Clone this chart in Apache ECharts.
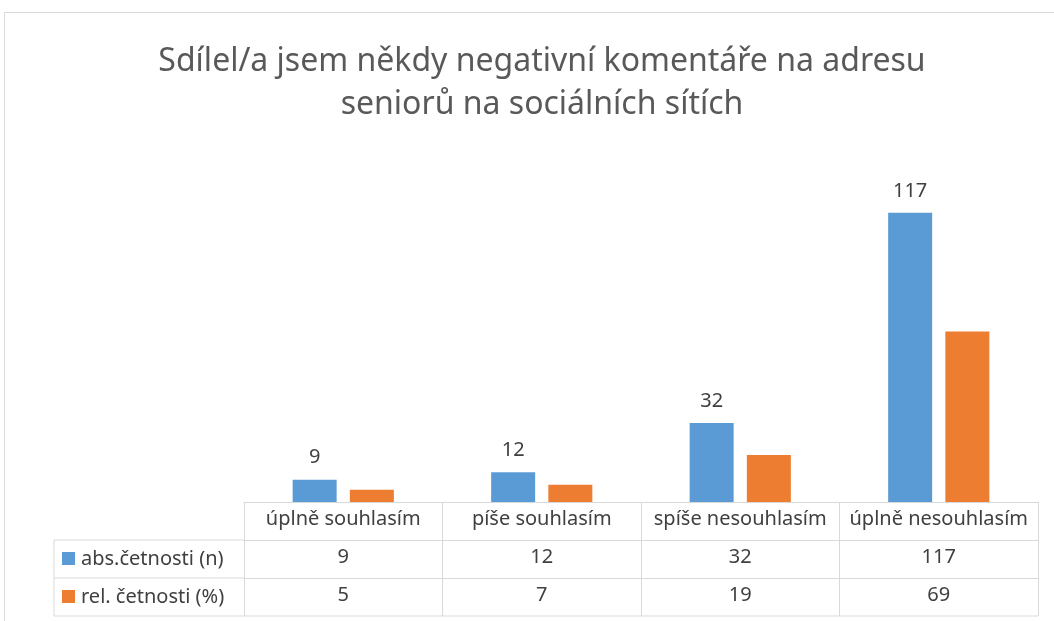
<!DOCTYPE html>
<html>
<head>
<meta charset="utf-8">
<script src="https://cdn.jsdelivr.net/npm/echarts@6/dist/echarts.min.js"></script>
<style>
  html, body { margin: 0; padding: 0; background: #fff; }
  #main { width: 1054px; height: 621px; }
</style>
</head>
<body>
<div id="main"></div>
<script>
var titleText = 'Sdílel/a jsem někdy negativní komentáře na adresu\nseniorů na sociálních sítích';
var categories = ['úplně souhlasím', 'píše souhlasím', 'spíše nesouhlasím', 'úplně nesouhlasím'];
var seriesNames = ['abs.četnosti (n)', 'rel. četnosti (%)'];
var absValues = [9, 12, 32, 117];
var relValues = [5, 7, 19, 69];
var colors = ['#5B9BD5', '#ED7D31'];

var font = '"Noto Sans", sans-serif';
var lineColor = '#d9d9d9';
var textColor = '#404040';

// table geometry (px)
var gridLeft = 244, gridRight = 1038, base = 502, rowH = 38, tableLeft = 54;

var chart = echarts.init(document.getElementById('main'));

function tableAxis(data, offset) {
  return {
    type: 'category',
    data: data,
    position: 'bottom',
    offset: offset,
    axisLine: { show: true, lineStyle: { color: lineColor, width: 1 } },
    axisTick: { show: true, length: rowH, inside: false, lineStyle: { color: lineColor } },
    axisLabel: { color: textColor, fontFamily: font, fontSize: 20, margin: 7, interval: 0 },
    splitLine: { show: false }
  };
}

var graphics = [
  { type: 'rect', shape: { x: 4.5, y: 12.5, width: 1100, height: 700 },
    style: { fill: 'none', stroke: lineColor, lineWidth: 1 }, silent: true },
  { type: 'line', shape: { x1: tableLeft, y1: base + rowH, x2: gridLeft, y2: base + rowH }, style: { stroke: lineColor } },
  { type: 'line', shape: { x1: tableLeft, y1: base + 2 * rowH, x2: gridLeft, y2: base + 2 * rowH }, style: { stroke: lineColor } },
  { type: 'line', shape: { x1: tableLeft, y1: base + 3 * rowH, x2: gridRight, y2: base + 3 * rowH }, style: { stroke: lineColor } },
  { type: 'line', shape: { x1: tableLeft, y1: base + rowH, x2: tableLeft, y2: base + 3 * rowH }, style: { stroke: lineColor } }
];
seriesNames.forEach(function (name, i) {
  var cy = base + rowH * (i + 1) + rowH / 2;
  graphics.push({ type: 'rect', shape: { x: 62, y: cy - 7, width: 13, height: 13 }, style: { fill: colors[i] } });
  graphics.push({ type: 'text', x: 81, y: cy, style: {
    text: name, fill: textColor, font: '20px ' + font, textVerticalAlign: 'middle', verticalAlign: 'middle'
  } });
});

var option = {
  backgroundColor: '#fff',
  title: {
    text: titleText,
    left: 537,
    top: 35,
    textAlign: 'center',
    textStyle: { color: '#595959', fontFamily: font, fontSize: 32, fontWeight: 'normal', lineHeight: 43 }
  },
  grid: { left: gridLeft, right: 1054 - gridRight, top: 156, bottom: 621 - base, containLabel: false },
  xAxis: [
    tableAxis(categories, 0),
    tableAxis(absValues.map(String), rowH),
    tableAxis(relValues.map(String), rowH * 2)
  ],
  yAxis: { type: 'value', min: 0, max: 140, show: false, splitLine: { show: false } },
  graphic: graphics,
  series: [
    {
      name: seriesNames[0], type: 'bar', data: absValues, barWidth: 44, barGap: '30%',
      itemStyle: { color: colors[0] },
      label: { show: true, position: 'top', distance: 12, color: textColor, fontFamily: font, fontSize: 20 }
    },
    {
      name: seriesNames[1], type: 'bar', data: relValues, barWidth: 44,
      itemStyle: { color: colors[1] }
    }
  ]
};

chart.setOption(option);
</script>
</body>
</html>
